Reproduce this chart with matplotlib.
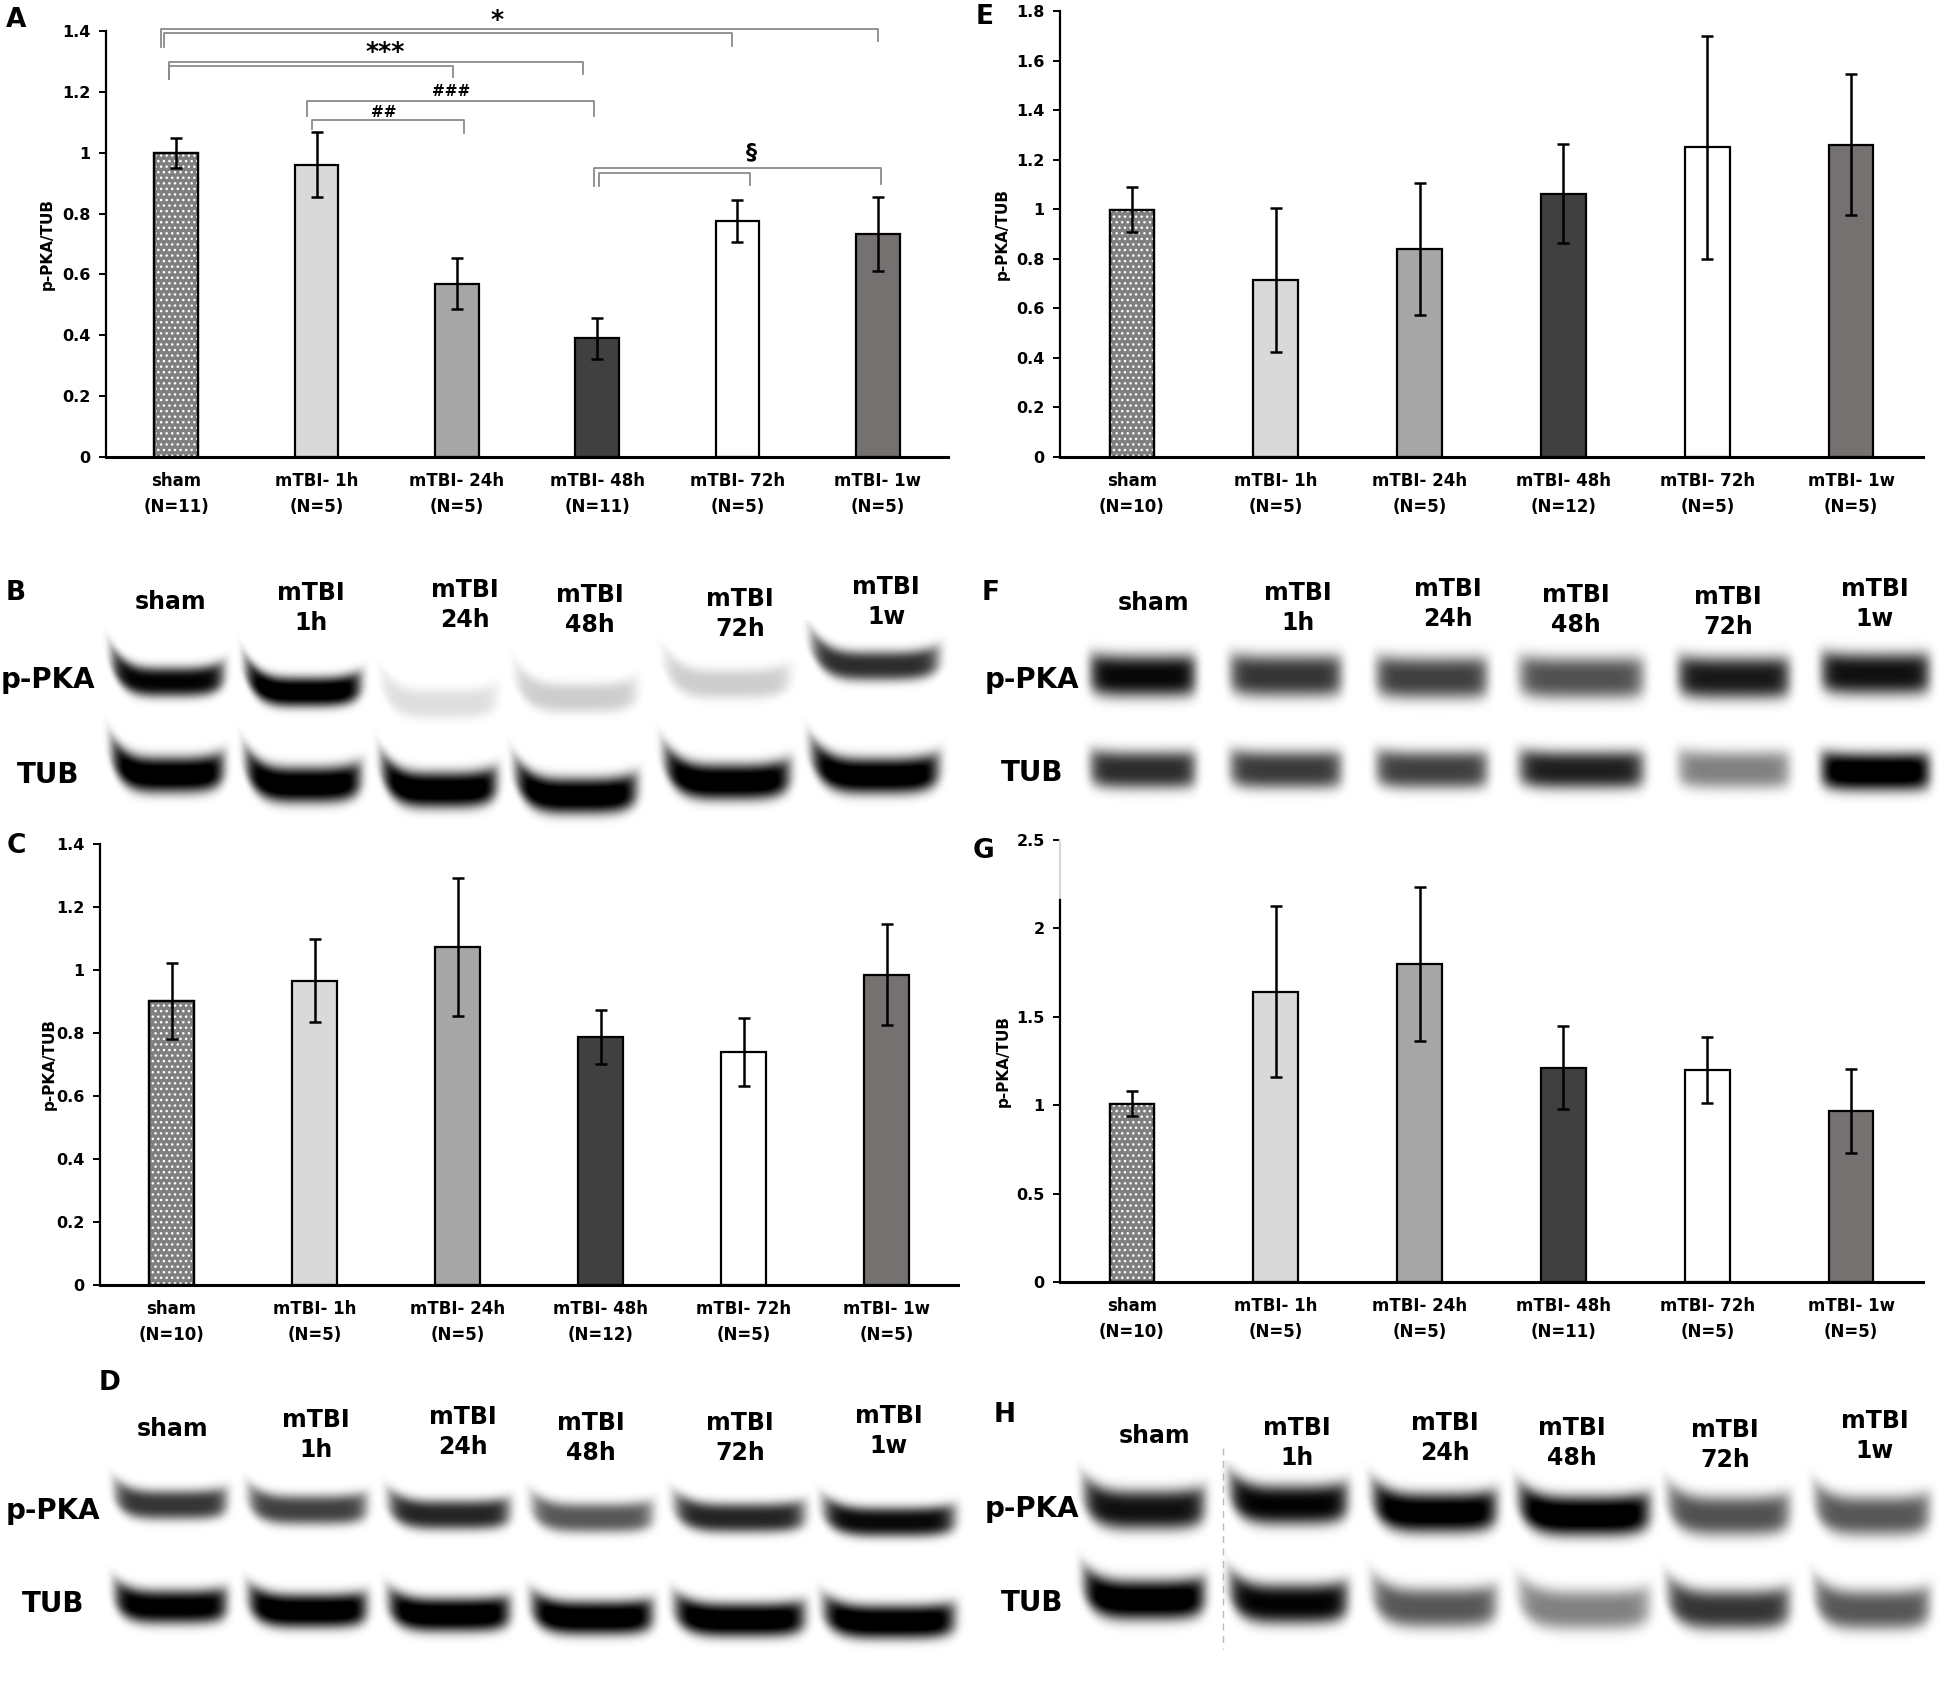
import numpy as np
import matplotlib
matplotlib.use("Agg")
from matplotlib import pyplot as plt
from matplotlib.ticker import FuncFormatter

W, H = 1950, 1686

# ---- bar chart data ----
groups = ["sham", "mTBI- 1h", "mTBI- 24h", "mTBI- 48h", "mTBI- 72h", "mTBI- 1w"]
n_A = [11, 5, 5, 11, 5, 5]
n_C = [10, 5, 5, 12, 5, 5]
n_E = [10, 5, 5, 12, 5, 5]
n_G = [10, 5, 5, 11, 5, 5]

mean_A = [1.00, 0.96, 0.57, 0.39, 0.775, 0.733]
err_A = [0.05, 0.107, 0.085, 0.068, 0.07, 0.123]
mean_C = [0.902, 0.966, 1.073, 0.787, 0.739, 0.985]
err_C = [0.12, 0.132, 0.218, 0.086, 0.108, 0.16]
mean_E = [0.998, 0.713, 0.84, 1.063, 1.251, 1.261]
err_E = [0.09, 0.29, 0.265, 0.2, 0.45, 0.285]
mean_G = [1.008, 1.643, 1.799, 1.213, 1.2, 0.968]
err_G = [0.07, 0.485, 0.437, 0.233, 0.187, 0.239]

bar_colors = ["#7f7f7f", "#d9d9d9", "#a6a6a6", "#404040", "#ffffff", "#767171"]

# significance brackets in panel A: (x_left, x_right, y, drop_left, drop_right)
brackets_A = [
    (-0.11, 5.00, 1.407, 0.060, 0.041),
    (-0.09, 3.96, 1.393, 0.045, 0.043),
    (-0.05, 2.90, 1.298, 0.055, 0.040),
    (-0.05, 1.97, 1.284, 0.041, 0.035),
    (0.93, 2.98, 1.170, 0.050, 0.050),
    (0.97, 2.05, 1.108, 0.029, 0.044),
    (2.98, 5.02, 0.950, 0.059, 0.053),
    (3.01, 4.09, 0.934, 0.043, 0.041),
]
sig_A = [(2.29, 1.436, "*", 18), (1.49, 1.331, "***", 18),
         (1.96, 1.202, "###", 11), (1.48, 1.131, "##", 11), (4.10, 1.002, "§", 16)]

# ---- western blot band intensities (0 = none, 1 = black) ----
lane_labels = ["sham", "mTBI\n1h", "mTBI\n24h", "mTBI\n48h", "mTBI\n72h", "mTBI\n1w"]
ppka_B = [0.9, 1.0, 0.12, 0.18, 0.18, 0.75]
tub_B = [1.0, 1.0, 1.0, 1.0, 1.0, 1.0]
ppka_D = [0.72, 0.68, 0.78, 0.60, 0.78, 0.88]
tub_D = [0.95, 1.0, 1.0, 1.0, 1.0, 1.0]
ppka_F = [0.88, 0.72, 0.68, 0.62, 0.82, 0.85]
tub_F = [0.75, 0.70, 0.68, 0.80, 0.45, 1.0]
ppka_H = [0.85, 0.90, 0.97, 1.0, 0.62, 0.60]
tub_H = [1.0, 0.90, 0.60, 0.45, 0.72, 0.60]

fig = plt.figure(figsize=(W / 100, H / 100), dpi=100)
ov = fig.add_axes([0, 0, 1, 1], zorder=0)
ov.set_xlim(0, W)
ov.set_ylim(H, 0)
ov.axis("off")


def rect(x0, y0, x1, y1):
    return [x0 / W, 1 - y1 / H, (x1 - x0) / W, (y1 - y0) / H]


def bar_panel(box, means, errs, ns, top, step, ylab_dx, g_gap=None):
    ax = fig.add_axes(rect(*box), zorder=1)
    ax.patch.set_alpha(0)
    x = np.arange(len(means))
    ax.bar(x, means, width=0.31, color=bar_colors, edgecolor="black", linewidth=1.6, zorder=2)
    ax.bar(x[:1], means[:1], width=0.29, color="none", edgecolor="white", hatch="...",
           linewidth=0, zorder=2.5)
    ax.bar(x[:1], means[:1], width=0.31, fill=False, edgecolor="black", linewidth=1.6, zorder=2.6)
    ax.errorbar(x, means, yerr=errs, fmt="none", ecolor="black", elinewidth=1.8,
                capsize=4, capthick=1.8, zorder=3)
    ax.set_xlim(-0.5, 5.5)
    ax.set_ylim(0, top)
    ax.set_yticks(np.arange(0, top + 1e-6, step))
    ax.yaxis.set_major_formatter(FuncFormatter(lambda v, p: "%g" % round(v, 2)))
    ax.set_xticks(x)
    ax.set_xticklabels([f"{g}\n(N={n})" for g, n in zip(groups, ns)],
                       fontsize=12, fontweight="bold", linespacing=1.55)
    for t in ax.get_yticklabels():
        t.set_fontsize(11.5)
        t.set_fontweight("bold")
    ax.tick_params(axis="x", length=0, pad=11)
    ax.tick_params(axis="y", length=5, width=1.4, pad=6)
    for s in ("top", "right"):
        ax.spines[s].set_visible(False)
    ax.spines["left"].set_linewidth(1.6)
    ax.spines["bottom"].set_linewidth(2.2)
    ax.set_ylabel("p-PKA/TUB", fontsize=11, fontweight="bold")
    ax.yaxis.label.set_va("center")
    ax.yaxis.set_label_coords(-ylab_dx / (box[2] - box[0]), 0.5)
    if g_gap is not None:
        ax.spines["left"].set_bounds(0, g_gap)
        ax.plot([-0.5, -0.5], [g_gap, top], color="#d8d8d8", lw=1.6, clip_on=False)
    return ax


axA = bar_panel((106, 31, 948, 457), mean_A, err_A, n_A, 1.4, 0.2, 59)
axC = bar_panel((100, 844, 958, 1285), mean_C, err_C, n_C, 1.4, 0.2, 51)
axE = bar_panel((1060, 11, 1923, 457), mean_E, err_E, n_E, 1.8, 0.2, 58)
axG = bar_panel((1060, 840, 1923, 1282), mean_G, err_G, n_G, 2.5, 0.5, 57, g_gap=2.16)

for xl, xr, y, dl, dr in brackets_A:
    axA.plot([xl, xl, xr, xr], [y - dl, y, y, y - dr], color="#8a8a8a", lw=1.3,
             solid_joinstyle="round", clip_on=False, zorder=4)
for xs, ys, txt, fs in sig_A:
    axA.text(xs, ys, txt, ha="center", va="center", fontsize=fs, fontweight="bold",
             clip_on=False)


# ---- western blots ----
def blot(lanes, ppka_y, tub_y, ppka, tub, sig_p, sig_t, curl, region):
    x0, x1, y0, y1 = region
    X, Y = np.meshgrid(np.arange(x0, x1) + 0.5, np.arange(y0, y1) + 0.5)
    img = np.zeros_like(X)
    for (a, b), yp, yt, ip, it in zip(lanes, ppka_y, tub_y, ppka, tub):
        cx, hw = (a + b) / 2, (b - a) / 2
        u = (X - cx) / hw
        hx = np.exp(-np.abs(u) ** 10)
        off = curl * (np.clip(-u, 0, None) ** 4 + 0.35 * np.clip(u, 0, None) ** 4)
        for yc, inten, s in ((yp, ip, sig_p), (yt, it, sig_t)):
            band = inten * hx * np.exp(-np.abs((Y - yc + off) / s) ** 3)
            img = np.maximum(img, band)
    img = np.clip(img * 1.1, 0, 1)
    ov.imshow(img, cmap="gray_r", vmin=0, vmax=1, extent=(x0, x1, y1, y0),
              interpolation="bilinear", aspect="auto", zorder=0)


def blot_labels(lab_x, lab_y, row_x, ppka_row_y, tub_row_y):
    for lx, ly, t in zip(lab_x, lab_y, lane_labels):
        ov.text(lx, ly, t, ha="center", va="center", fontsize=17, fontweight="bold",
                linespacing=1.3)
    ov.text(row_x, ppka_row_y, "p-PKA", ha="center", va="center", fontsize=20, fontweight="bold")
    ov.text(row_x, tub_row_y, "TUB", ha="center", va="center", fontsize=20, fontweight="bold")


blot([(112, 224), (246, 361), (382, 497), (516, 637), (665, 790), (812, 939)],
     [682, 692, 704, 698, 684, 666], [775, 785, 790, 796, 782, 776],
     ppka_B, tub_B, 15, 18, 24, (95, 965, 620, 840))
blot_labels([171, 311, 465, 590, 740, 886], [602, 608, 605, 610, 614, 602], 48, 680, 775)

blot([(115, 227), (249, 367), (389, 510), (532, 653), (675, 805), (824, 955)],
     [1505, 1510, 1515, 1518, 1518, 1522], [1607, 1611, 1615, 1618, 1620, 1622],
     ppka_D, tub_D, 15, 17, 14, (100, 970, 1460, 1670))
blot_labels([173, 316, 463, 591, 740, 889], [1429, 1435, 1432, 1438, 1438, 1431], 53, 1511, 1604)

blot([(1090, 1196), (1230, 1342), (1376, 1488), (1519, 1644), (1678, 1790), (1821, 1930)],
     [676, 676, 678, 678, 678, 674], [770, 770, 770, 770, 770, 772],
     ppka_F, tub_F, 21, 19, 4, (1075, 1945, 630, 830))
blot_labels([1154, 1298, 1448, 1576, 1728, 1875], [603, 608, 604, 610, 612, 604], 1032, 680, 773)

blot([(1084, 1205), (1230, 1348), (1373, 1497), (1519, 1650), (1668, 1790), (1815, 1930)],
     [1510, 1505, 1513, 1516, 1516, 1516], [1600, 1604, 1608, 1610, 1610, 1610],
     ppka_H, tub_H, 20, 20, 18, (1070, 1945, 1460, 1670))
blot_labels([1155, 1297, 1445, 1572, 1725, 1875], [1436, 1443, 1438, 1443, 1445, 1436], 1032, 1509, 1603)
ov.plot([1223, 1223], [1448, 1649], color="#bbbbbb", lw=1, ls=(0, (5, 4)), zorder=1)

# panel letters
for letter, lx, ly in [("A", 16, 20), ("B", 16, 593), ("C", 16, 846), ("D", 110, 1383),
                       ("E", 985, 17), ("F", 991, 593), ("G", 983, 851), ("H", 1005, 1415)]:
    ov.text(lx, ly, letter, ha="center", va="center", fontsize=19, fontweight="bold")

fig.savefig("out.png", dpi=100, facecolor="white")
